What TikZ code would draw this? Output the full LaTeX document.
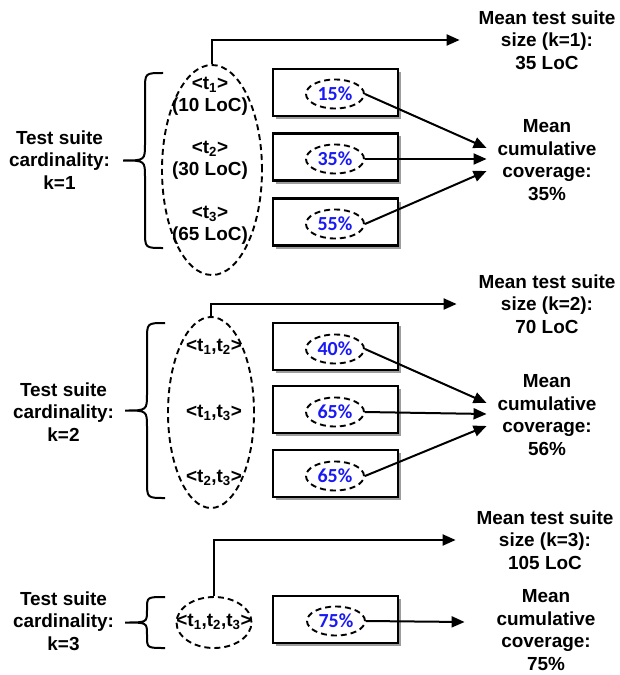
\documentclass[tikz,border=0pt]{standalone}
\usepackage{fontspec}
\setmainfont{Liberation Sans}
\newfontfamily\pctfont{Carlito}
\usepackage{tikz}
\usetikzlibrary{arrows.meta,positioning,shapes.geometric,shadows}

\definecolor{pctblue}{RGB}{25,25,245}

% hand drawn curly brace: x of the arm ends, y top, y bottom, curl radius
\newcommand{\setbrace}[4]{%
  \draw[line width=2bp] (#1,#2) .. controls (#1-18,#2) .. (#1-18,#2+#4)
    -- (#1-18,{(#2+#3)/2-#4}) .. controls (#1-18,{(#2+#3)/2}) .. (#1-40,{(#2+#3)/2})
    .. controls (#1-18,{(#2+#3)/2}) .. (#1-18,{(#2+#3)/2+#4})
    -- (#1-18,#3-#4) .. controls (#1-18,#3) .. (#1,#3);}

\begin{document}
\begin{tikzpicture}[
    x = 1bp, y = -1bp,
    line width = 2bp,
    >={Triangle[length=13bp,width=11bp]},
    lbl/.style = {
      font = \bfseries\fontsize{19}{22.5}\selectfont,
      align = center,
      inner sep = 0pt},
    setell/.style = {
      draw,
      ellipse,
      line width = 1.9bp,
      dash pattern = on 6bp off 4bp,
      inner sep = 0pt},
    testbox/.style = {
      draw,
      fill = white,
      line width = 2.2bp,
      minimum width = 125bp,
      minimum height = 47bp,
      drop shadow = {shadow xshift=3bp, shadow yshift=-3bp, fill=black!55, opacity=0.7}},
    pct/.style = {
      draw,
      ellipse,
      line width = 1.9bp,
      dash pattern = on 6bp off 4bp,
      inner sep = 0pt,
      minimum width = 58bp,
      minimum height = 29bp,
      text = pctblue,
      font = \pctfont\bfseries\fontsize{20}{22}\selectfont}
  ]
  \useasboundingbox (0,0) rectangle (620,675);

  % Cardinality k=1
  \node[lbl, anchor=east] (card1) at (111,160) {Test suite\\cardinality:\\k=1};
  \setbrace{163}{73}{248}{17}
  \node[setell, minimum width=100bp, minimum height=210bp] (set1) at (212,170) {};
  \node[lbl] (s11) at (210,96) {<t\textsubscript{1}>\\(10 LoC)};
  \node[lbl] (s12) at (210,160) {<t\textsubscript{2}>\\(30 LoC)};
  \node[lbl] (s13) at (210,225) {<t\textsubscript{3}>\\(65 LoC)};

  \node[testbox] (b11) at (335.5,92.5) {};
  \node[testbox] (b12) at (335.5,157) {};
  \node[testbox] (b13) at (335.5,222) {};
  \node[pct] (p11) at (335,94) {15\%};
  \node[pct] (p12) at (335,159) {35\%};
  \node[pct] (p13) at (335,224) {55\%};

  \node[lbl] (size1) at (547,40) {Mean test suite\\size (k=1):\\35 LoC};
  \node[lbl] (cov1) at (547,160) {Mean\\cumulative\\coverage:\\35\%};
  \coordinate (in1) at ([xshift=-10bp]cov1.west);

  \draw[->] (set1.north) |- ([xshift=-18bp]size1.west);
  \draw[->] (p11.east) -- ([yshift=12bp]in1);
  \draw[->] (p12.east) -- ([yshift=1bp]in1);
  \draw[->] (p13.east) -- ([yshift=-11bp]in1);

  % Cardinality k=2
  \node[lbl, anchor=east] (card2) at (115,412) {Test suite\\cardinality:\\k=2};
  \setbrace{165}{323}{498}{17}
  \node[setell, minimum width=86bp, minimum height=191bp] (set2) at (211,412.5) {};
  \node[lbl] (s21) at (214,347) {<t\textsubscript{1},t\textsubscript{2}>};
  \node[lbl] (s22) at (214,413) {<t\textsubscript{1},t\textsubscript{3}>};
  \node[lbl] (s23) at (214,478) {<t\textsubscript{2},t\textsubscript{3}>};

  \node[testbox] (b21) at (335.5,346.5) {};
  \node[testbox] (b22) at (335.5,409.5) {};
  \node[testbox] (b23) at (335.5,473.5) {};
  \node[pct] (p21) at (335,349) {40\%};
  \node[pct] (p22) at (335,412) {65\%};
  \node[pct] (p23) at (335,476) {65\%};

  \node[lbl] (size2) at (547,304) {Mean test suite\\size (k=2):\\70 LoC};
  \node[lbl] (cov2) at (547,415) {Mean\\cumulative\\coverage:\\56\%};
  \coordinate (in2) at ([xshift=-10bp]cov2.west);

  \draw[->] (set2.north) |- ([xshift=-21bp]size2.west);
  \draw[->] (p21.east) -- ([yshift=12bp]in2);
  \draw[->] (p22.east) -- ([yshift=1bp]in2);
  \draw[->] (p23.east) -- ([yshift=-11bp]in2);

  % Cardinality k=3
  \node[lbl, anchor=east] (card3) at (115,621) {Test suite\\cardinality:\\k=3};
  \setbrace{165}{597}{648}{12}
  \node[setell, minimum width=75bp, minimum height=51bp] (set3) at (214,622.5) {};
  \node[lbl] (s31) at (214,622) {<t\textsubscript{1},t\textsubscript{2},t\textsubscript{3}>};

  \node[testbox] (b31) at (335.5,619.5) {};
  \node[pct] (p31) at (336,621) {75\%};

  \node[lbl] (size3) at (545,540) {Mean test suite\\size (k=3):\\105 LoC};
  \node[lbl] (cov3) at (546,630) {Mean\\cumulative\\coverage:\\75\%};
  \coordinate (in3) at ([xshift=-31bp,yshift=8bp]cov3.west);

  \draw[->] (set3.north) |- ([xshift=-20bp]size3.west);
  \draw[->] (p31.east) -- (in3);

\end{tikzpicture}
\end{document}
